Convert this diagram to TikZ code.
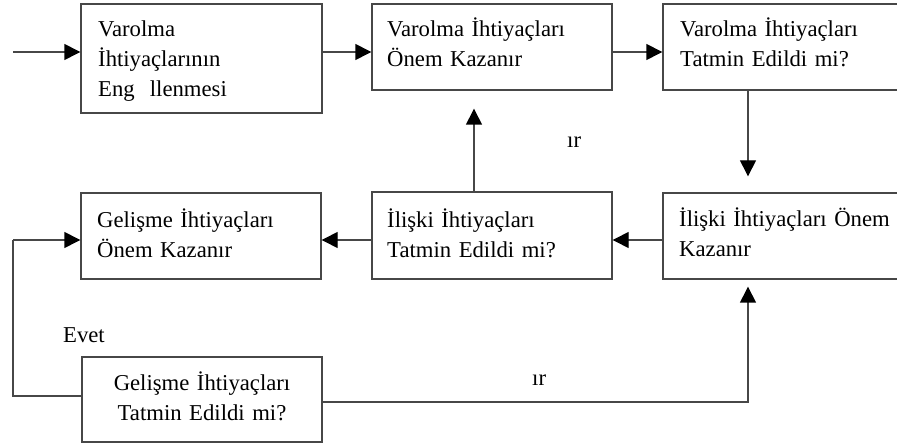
\documentclass[tikz,border=0pt]{standalone}
\usepackage{fontspec}
\setmainfont{Liberation Serif}
\usetikzlibrary{arrows.meta,calc}

\tikzset{
  box/.style={draw=black!72, line width=1.4pt, rectangle, inner sep=0pt},
  txt/.style={inner sep=0pt, font=\fontsize{22.7}{30}\selectfont, text=black},
  lefttxt/.style={txt, anchor=base west, text width=220pt, align=left},
  midtxt/.style={txt, anchor=base, text width=236pt, align=center},
  lbl/.style={txt, anchor=base west},
  arr/.style={draw=black!72, line width=1.4pt,
    -{Triangle[length=16pt,width=16pt,color=black]}},
  conn/.style={draw=black!72, line width=1.4pt}
}

\begin{document}
\begin{tikzpicture}[x=1pt,y=-1pt]
  \clip (0,0) rectangle (897,446);
  \fill[white] (0,0) rectangle (897,446);

  % boxes
  \node[box, minimum width=241pt, minimum height=109pt] (A) at (201.5,58.5) {};
  \node[box, minimum width=240pt, minimum height=86pt]  (B) at (492,47) {};
  \node[box, minimum width=242pt, minimum height=86pt]  (C) at (784,47) {};
  \node[box, minimum width=240pt, minimum height=86pt]  (D) at (201,236) {};
  \node[box, minimum width=240pt, minimum height=87pt]  (E) at (492,235.5) {};
  \node[box, minimum width=242pt, minimum height=86pt]  (F) at (784,236) {};
  \node[box, minimum width=240pt, minimum height=85pt]  (G) at (202,399.5) {};

  % box texts
  \node[lefttxt] (At) at (98,37)  {Varolma\\İhtiyaçlarının\\Eng~~llenmesi};
  \node[lefttxt] (Bt) at (387,37) {Varolma İhtiyaçları\\Önem Kazanır};
  \node[lefttxt] (Ct) at (680,37) {Varolma İhtiyaçları\\Tatmin Edildi mi?};
  \node[lefttxt] (Dt) at (97,228) {Gelişme İhtiyaçları\\Önem Kazanır};
  \node[lefttxt] (Et) at (387,228) {İlişki İhtiyaçları\\Tatmin Edildi mi?};
  \node[lefttxt] (Ft) at (679,227) {İlişki İhtiyaçları Önem\\Kazanır};
  \node[midtxt]  (Gt) at (202,390) {Gelişme İhtiyaçları\\Tatmin Edildi mi?};

  % answer labels
  \node[lbl] (no1)  at (567,148) {ır};
  \node[lbl] (no2)  at (532,385) {ır};
  \node[lbl] (yes)  at (63,342)  {Evet};

  % helper coordinates for connector lines
  \coordinate (in) at (13,52);
  \coordinate (r1) at (0,52);
  \coordinate (r2) at (0,240);
  \coordinate (r3) at (0,396);
  \coordinate (r4) at (0,402);
  \coordinate (cx) at (748,0);
  \coordinate (ex) at (474,0);
  \coordinate (lx) at (13,0);

  % top row
  \draw[arr] (in) -- (in -| A.west);
  \draw[arr] (A.east |- r1) -- (B.west |- r1);
  \draw[arr] (B.east |- r1) -- (C.west |- r1);
  \draw[arr] (C.south -| cx) -- ($(F.north -| cx)+(0,-16)$);

  % middle row
  \draw[arr] (F.west |- r2) -- (E.east |- r2);
  \draw[arr] (E.west |- r2) -- (D.east |- r2);
  \draw[arr] (E.north -| ex) -- ($(B.south -| ex)+(0,18)$);

  % bottom decision
  \draw[conn] (G.west |- r3) -| (lx |- r2);
  \draw[arr] (lx |- r2) -- (D.west |- r2);
  \draw[arr] (G.east |- r4) -| ($(F.south -| cx)+(0,7)$);
\end{tikzpicture}
\end{document}
